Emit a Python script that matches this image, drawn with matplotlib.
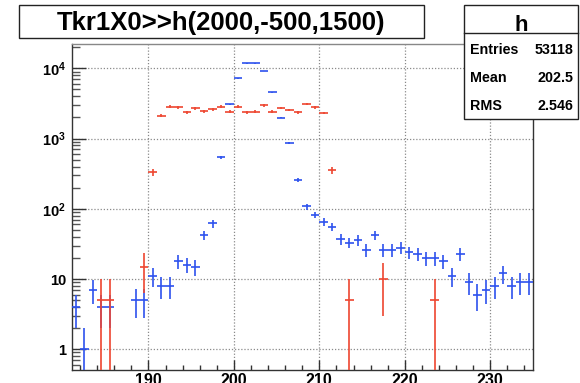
import numpy as np
import matplotlib
matplotlib.use('Agg')
import matplotlib.pyplot as plt
from matplotlib.patches import Rectangle
from matplotlib.lines import Line2D
from matplotlib.ticker import FixedLocator, FixedFormatter, LogLocator, NullFormatter

plt.rcParams['font.family'] = ['Liberation Sans', 'DejaVu Sans']
plt.rcParams['font.weight'] = 'bold'
plt.rcParams['mathtext.fontset'] = 'custom'
plt.rcParams['mathtext.rm'] = 'Liberation Sans:bold'
plt.rcParams['mathtext.bf'] = 'Liberation Sans:bold'
plt.rcParams['mathtext.it'] = 'Liberation Sans:bold'

# ---- data (bin lower edges, width 1) ----
bin_edges_low = list(range(181, 235))
blue_counts = [4, 1, 7, 4, 4, 0, 0, 5, 5, 11,
               8, 8, 18, 16, 15, 42, 62, 540, 3100, 7200,
               11800, 11800, 9150, 4550, 1990, 855, 255, 108, 82, 65,
               55, 37, 33, 36, 26, 42, 26, 26, 28, 24,
               23, 20, 20, 18, 11, 23, 9, 6, 7, 8,
               12, 8, 9, 9]
red_counts = [0, 0, 0, 5, 5, 0, 0, 0, 15, 330,
              2115, 2840, 2780, 2380, 2700, 2450, 2610, 2840, 2400, 2840,
              2370, 2410, 2980, 2410, 2720, 2550, 2360, 3100, 2780, 2310,
              355, 0, 5, 0, 0, 0, 10, 0, 0, 0,
              0, 0, 5, 0, 0, 0, 0, 0, 0, 0,
              0, 0, 0, 0]
red_weight = 5

y_ticks = [1, 10, 100, 1000, 10000]
y_tick_labels = ['1', '10', r'$10^{2}$', r'$10^{3}$', r'$10^{4}$']
x_ticks = [190, 200, 210, 220, 230]
x_tick_labels = ['190', '200', '210', '220', '230']

title_text = 'Tkr1X0>>h(2000,-500,1500)'
stats_name = 'h'
stats_rows = [('Entries', '53118'), ('Mean', '202.5'), ('RMS', '2.546')]

X_MIN, X_MAX = 181, 235
Y_MIN, Y_MAX = 0.507, 22200

W, H = 580, 383
fig = plt.figure(figsize=(W / 100, H / 100), dpi=100)
fig.patch.set_facecolor('white')

def fx(px):
    return px / W

def fy(py):
    return 1 - py / H

ax = fig.add_axes([fx(71.5), fy(370), fx(533) - fx(71.5), fy(44) - fy(370)])
ax.set_yscale('log')
ax.set_xlim(X_MIN, X_MAX)
ax.set_ylim(Y_MIN, Y_MAX)

BLUE = '#2d52ee'
RED = '#ee4630'

def draw_hist(counts, weight, color, z):
    c = np.array(counts, dtype=float)
    lo = np.array(bin_edges_low, dtype=float)
    mask = c > 0
    centers = lo[mask] + 0.5
    vals = c[mask]
    err = np.sqrt(vals * weight)
    lower = np.minimum(err, vals - Y_MIN * 0.5)
    ax.errorbar(centers, vals, xerr=0.5, yerr=[lower, err], fmt='none',
                ecolor=color, elinewidth=1.2, capsize=0, zorder=z)

draw_hist(blue_counts, 1, BLUE, 3)
draw_hist(red_counts, red_weight, RED, 4)

# grid
ax.grid(True, which='major', axis='both', color='#8a8a8a',
        linestyle=(0, (1, 1.5)), linewidth=0.9)
ax.set_axisbelow(True)

# ticks
ax.yaxis.set_major_locator(FixedLocator(y_ticks))
ax.yaxis.set_major_formatter(FixedFormatter(y_tick_labels))
ax.yaxis.set_minor_locator(LogLocator(base=10, subs=np.arange(2, 10)))
ax.yaxis.set_minor_formatter(NullFormatter())
ax.xaxis.set_major_locator(FixedLocator(x_ticks))
ax.xaxis.set_major_formatter(FixedFormatter(x_tick_labels))
ax.xaxis.set_minor_locator(FixedLocator(list(range(182, 236, 2))))

ax.tick_params(axis='y', which='major', direction='in', length=10, width=1,
               color='#333333', labelsize=10.5, pad=4, right=False)
ax.tick_params(axis='y', which='minor', direction='in', length=5.5, width=1,
               color='#555555', right=False)
ax.tick_params(axis='x', which='major', direction='in', length=7, width=1,
               color='#333333', labelsize=11.5, pad=2, top=False)
ax.tick_params(axis='x', which='minor', direction='in', length=3.8, width=1,
               color='#333333', top=False)
for lab in ax.get_xticklabels() + ax.get_yticklabels():
    lab.set_fontweight('bold')

for s in ax.spines.values():
    s.set_color('#333333')
    s.set_linewidth(1)
ax.spines['top'].set_color('#888888')

# title box
fig.add_artist(Rectangle((fx(19), fy(38)), fx(424) - fx(19), fy(5) - fy(38),
                         transform=fig.transFigure, facecolor='white',
                         edgecolor='#222222', linewidth=1, zorder=10))
fig.text(fx(221), fy(30), title_text, ha='center', va='baseline',
         fontsize=18.5, fontweight='bold', zorder=11)

# stats box
fig.add_artist(Rectangle((fx(464), fy(119)), fx(578) - fx(464), fy(5) - fy(119),
                         transform=fig.transFigure, facecolor='white',
                         edgecolor='#222222', linewidth=1, zorder=10))
fig.add_artist(Line2D([fx(464), fx(578)], [fy(33), fy(33)],
                      transform=fig.transFigure, color='#222222',
                      linewidth=1, zorder=11))
fig.text(fx(521), fy(31), stats_name, ha='center', va='baseline',
         fontsize=16, fontweight='bold', zorder=11)
row_baselines = [54, 82, 110]
for (name, val), yb in zip(stats_rows, row_baselines):
    fig.text(fx(470), fy(yb), name, ha='left', va='baseline',
             fontsize=10.3, fontweight='bold', zorder=11)
    fig.text(fx(573), fy(yb), val, ha='right', va='baseline',
             fontsize=10.3, fontweight='bold', zorder=11)

fig.savefig('out.png', dpi=100)
